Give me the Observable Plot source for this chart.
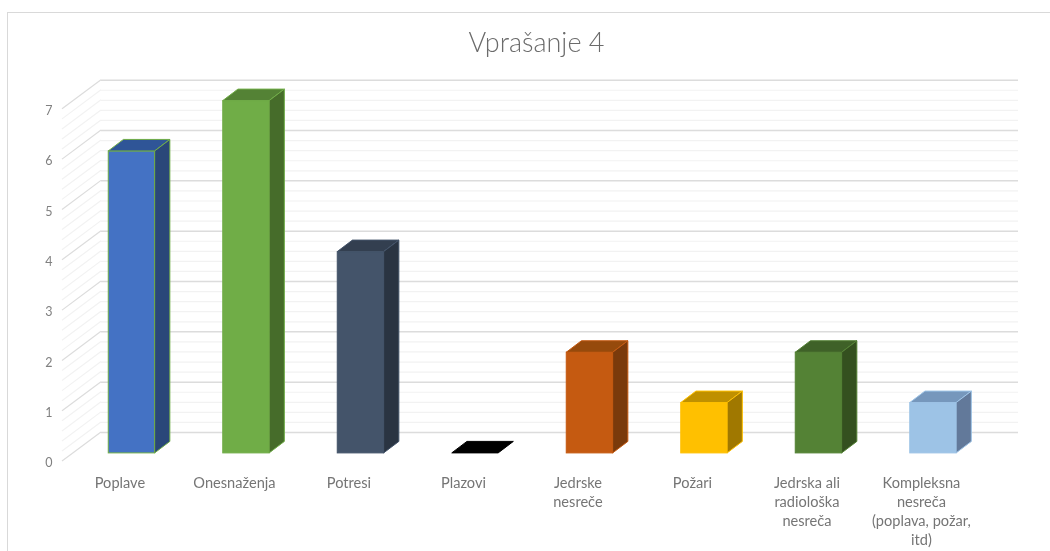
<!DOCTYPE html>
<html>
<head>
<meta charset="utf-8">
<script src="https://cdn.jsdelivr.net/npm/d3@7"></script>
<script src="https://cdn.jsdelivr.net/npm/@observablehq/plot@0.6"></script>
<style>
  html, body { margin: 0; padding: 0; background: #fff; }
  #chart { position: relative; width: 1050px; height: 551px; overflow: hidden; }
  #chart svg { position: absolute; left: 0; top: 0; background: transparent; filter: blur(0.35px); }
  #frame { position: absolute; left: 7px; top: 12px; right: -5px; bottom: -5px; border: 1px solid #d9d9d9; }
</style>
</head>
<body>
<div id="chart"><div id="frame"></div></div>
<script>
const titleText = "Vprašanje 4";
const categories = ["Poplave", "Onesnaženja", "Potresi", "Plazovi", "Jedrske\nnesreče", "Požari",
  "Jedrska ali\nradiološka\nnesreča", "Kompleksna\nnesreča\n(poplava, požar,\nitd)"];
const values = [6, 7, 4, 0, 2, 1, 2, 1];
const frontColors = ["#4472C4", "#70AD47", "#44546A", "#000000", "#C55A11", "#FFC000", "#548235", "#9DC3E6"];
const topColors = ["#2F5597", "#548235", "#333F50", "#000000", "#964A0C", "#BF9000", "#3F6128", "#7697BC"];
const sideColors = ["#2A4779", "#466C2A", "#2A3442", "#000000", "#7A3A0B", "#A07800", "#34501F", "#62799A"];
const edgeColors = ["#70AD47", "#70AD47", "#44546A", "#000000", "#C55A11", "#FFC000", "#548235", "#9DC3E6"];
const yTicks = [0, 1, 2, 3, 4, 5, 6, 7];
const gridMinor = d3.range(0, 36).map(k => k / 5).filter(v => !Number.isInteger(v));

const depthX = 15.2, depthY = 11.5;     // bar depth in pixels
const wallLeft = 62, wallBack = 101;    // side wall x extent
const wallFrontDy = 8.2, wallBackDy = -20.9;
const barGap = 1 - 46.4 / 114.5;        // share of each category step left empty
const font = "Lato, 'Open Sans', sans-serif";
const ns = "http://www.w3.org/2000/svg";

function polygon(points, fill, stroke) {
  const p = document.createElementNS(ns, "polygon");
  p.setAttribute("points", points.map(q => q.join(",")).join(" "));
  p.setAttribute("fill", fill);
  p.setAttribute("stroke", stroke);
  p.setAttribute("stroke-width", 1);
  return p;
}

function sideWall(index, { y }) {
  const g = document.createElementNS(ns, "g");
  const draw = (v, color) => {
    const l = document.createElementNS(ns, "line");
    l.setAttribute("x1", wallLeft);
    l.setAttribute("y1", y(v) + wallFrontDy);
    l.setAttribute("x2", wallBack);
    l.setAttribute("y2", y(v) + wallBackDy);
    l.setAttribute("stroke", color);
    l.setAttribute("stroke-width", 1.2);
    g.appendChild(l);
  };
  gridMinor.forEach(v => draw(v, "#f2f2f2"));
  yTicks.forEach(v => draw(v, "#dcdcdc"));
  return g;
}

function cubeFaces(index, scales, channels, dims, ctx, next) {
  const g = next(index, scales, channels, dims, ctx);
  const w = scales.x.bandwidth();
  for (const i of index) {
    const x0 = scales.x(categories[i]);
    const t = scales.y(values[i]);
    const b = scales.y(0);
    g.appendChild(polygon([[x0, t], [x0 + depthX, t - depthY], [x0 + w + depthX, t - depthY], [x0 + w, t]], topColors[i], edgeColors[i]));
    if (values[i] > 0) {
      g.appendChild(polygon([[x0 + w, t], [x0 + w + depthX, t - depthY], [x0 + w + depthX, b - depthY], [x0 + w, b]], sideColors[i], edgeColors[i]));
    }
  }
  return g;
}

const plot = Plot.plot({
  width: 1050,
  height: 551,
  marginTop: 12,
  marginLeft: wallBack,
  marginRight: 32,
  marginBottom: 98,
  style: { background: "transparent", fontFamily: font },
  x: { type: "band", domain: categories, range: [74.2, 990.2], paddingInner: barGap, paddingOuter: barGap / 2, round: false, axis: null, label: null },
  y: { domain: [0, 7], range: [452.9, 100.6], axis: null, label: null },
  marks: [
    Plot.ruleY(gridMinor, { dy: wallBackDy, stroke: "#f2f2f2", strokeWidth: 1.2 }),
    Plot.ruleY(yTicks, { dy: wallBackDy, stroke: "#dcdcdc", strokeWidth: 1.5 }),
    sideWall,
    Plot.axisY({ ticks: yTicks, tickFormat: d => d, label: null, tickSize: 0, tickPadding: 0, dx: -49, dy: 10, fontSize: 12.5, fill: "#808080" }),
    Plot.axisX({ label: null, tickSize: 0, tickPadding: 20, dy: 0.5, dx: -12, fontSize: 14.6, lineHeight: 1.32, fill: "#757575", textAnchor: "middle", lineAnchor: "top" }),
    Plot.barY(values.map((v, i) => ({ category: categories[i], value: v })), {
      x: "category",
      y: "value",
      fill: (d, i) => frontColors[i],
      stroke: (d, i) => edgeColors[i],
      strokeWidth: 1,
      render: cubeFaces
    }),
    Plot.text([titleText], { frameAnchor: "top", dy: 20, dx: -23.5, fontSize: 27, fontWeight: 300, fill: "#6b6b6b", lineAnchor: "top", fontFamily: font })
  ]
});
document.getElementById("chart").appendChild(plot);
</script>
</body>
</html>
